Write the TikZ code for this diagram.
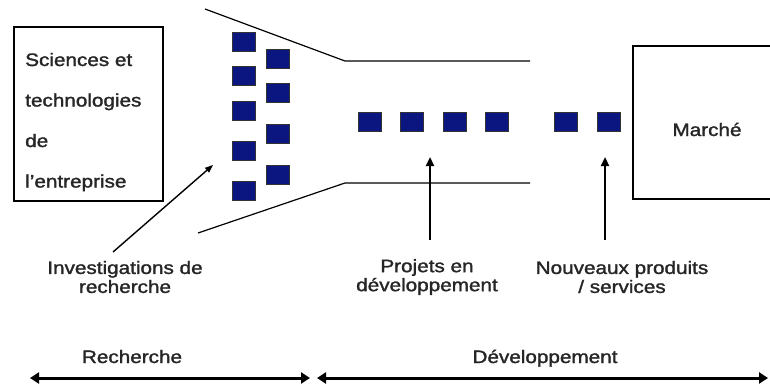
\documentclass[tikz,border=0pt]{standalone}
\usepackage{fontspec}
\setmainfont{Liberation Sans}
\newfontfamily\lblfont{Liberation Sans}[Ligatures=TeX, FakeBold=1.5]
\usepackage{xcolor}
\usepackage{tikz}
\usetikzlibrary{arrows.meta}
\usetikzlibrary{positioning}

\definecolor{sqblue}{RGB}{12,22,128}

\tikzset{
	lbl/.style={font=\lblfont\fontsize{18}{19}\selectfont, text=black!85, xscale=1.15, inner sep=0pt, align=center},
	sq/.style={draw=black!80, line width=0.6pt, fill=sqblue, minimum width=23pt, minimum height=19pt, inner sep=0pt},
	pointer/.style={line width=2.2pt, -{Triangle[length=9pt,width=8pt]}},
	span/.style={line width=3pt, {Triangle[length=9pt,width=11pt]}-{Triangle[length=9pt,width=11pt]}}
}

\begin{document}
\begin{tikzpicture}[x=1pt,y=-1pt]

	\useasboundingbox (0,0) rectangle (770,383);
	\clip (0,0) rectangle (770,383);

	% boxes
	\draw [line width=1.3pt] (14,27) rectangle (163,201);
	\draw [line width=1.3pt] (790,46) -- (633,46) -- (633,199) -- (790,199);

	\node (sci1) [lbl, anchor=base west] at (25,66) {Sciences et};
	\node (sci2) [lbl, anchor=base west] at (25,106.5) {technologies};
	\node (sci3) [lbl, anchor=base west] at (25,147) {de};
	\node (sci4) [lbl, anchor=base west] at (25,187.5) {l’entreprise};

	\node (market) [lbl, anchor=base] at (707,136) {Marché};

	% funnel
	\draw [line width=1.2pt] (205,9) -- (345,61) -- (530,61);
	\draw [line width=1.2pt] (198,233) -- (345,183) -- (530,183);

	% squares
	\foreach \y [count=\i] in {41.5,76,111,151,191}
		\node (ra\i) [sq] at (243.5,\y) {};
	\foreach \y [count=\i] in {59,93,134,174.5}
		\node (rb\i) [sq] at (278,\y) {};
	\foreach \x [count=\i] in {370,412,454.5,496.5,566,609}
		\node (dev\i) [sq] at (\x,122) {};

	% labels
	\node (inv) [lbl] at (125,277) {Investigations de\\recherche};
	\node (proj) [lbl] at (427,277) {Projets en\\développement};
	\node (nouv) [lbl] at (622,277) {Nouveaux produits\\/ services};

	\coordinate (invtail) at (113,252);
	\coordinate (invtip) at (213,165);
	\coordinate (projtail) at (430,240);
	\coordinate (projtip) at (430,157);
	\coordinate (nouvtail) at (605,240);
	\coordinate (nouvtip) at (605,157);

	\draw [line width=1.4pt, -{Triangle[length=8pt,width=6pt]}] (invtail) -- (invtip);
	\draw [pointer] (projtail) -- (projtip);
	\draw [pointer] (nouvtail) -- (nouvtip);

	% phases
	\node (rech) [lbl, anchor=base] at (132,363) {Recherche};
	\node (devt) [lbl, anchor=base] at (545,363) {Développement};

	\coordinate (r0) at (30,378);
	\coordinate (r1) at (310,378);
	\coordinate (d0) at (317,378);
	\coordinate (d1) at (768,378);

	\draw [span] (r0) -- (r1);
	\draw [span] (d0) -- (d1);

\end{tikzpicture}
\end{document}
